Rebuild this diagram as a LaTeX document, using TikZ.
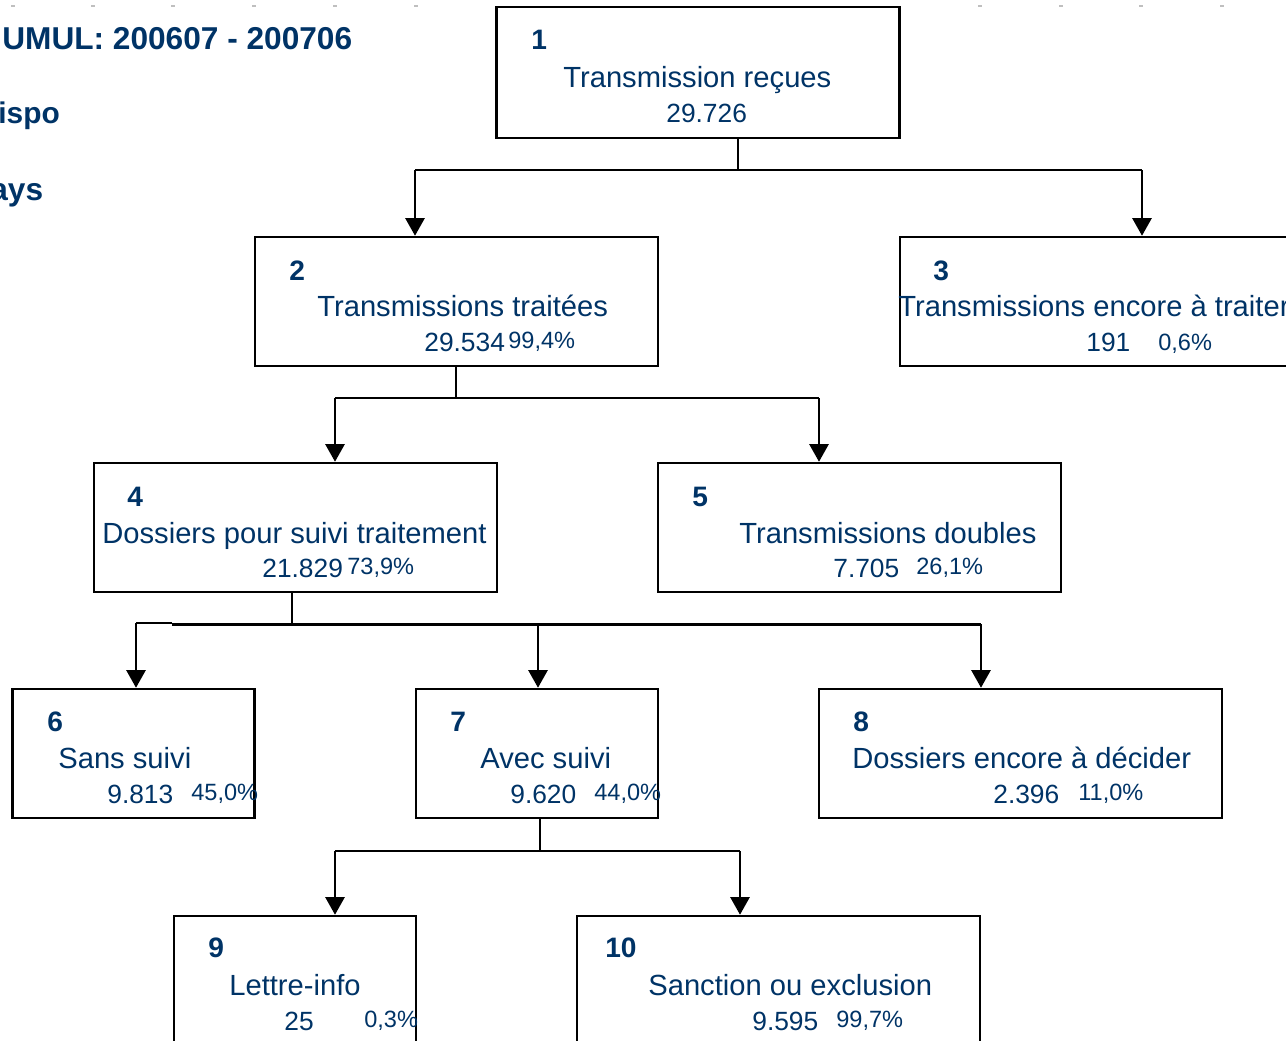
\documentclass[tikz,border=0pt]{standalone}
\usepackage{fontspec}
\setmainfont{Liberation Sans}
\usetikzlibrary{arrows.meta}

\definecolor{navy}{RGB}{0,51,102}
\tikzset{
  box/.style={draw, rectangle, line width=1.5pt, inner sep=0pt, minimum height=2.58cm},
  wide/.style={box, minimum width=8.06cm},
  narrow/.style={box, minimum width=4.84cm},
  link/.style={line width=1.4pt},
  arr/.style={line width=0.9pt, -{Triangle[length=10pt,width=11pt]}},
  txt/.style={anchor=base west, inner sep=0pt, text=navy},
  head/.style={txt, font=\fontsize{18}{20}\selectfont\bfseries},
  nr/.style={txt, font=\fontsize{16}{18}\selectfont\bfseries},
  lbl/.style={txt, font=\fontsize{16.6}{18}\selectfont},
  val/.style={txt, font=\fontsize{15}{17}\selectfont},
  pct/.style={txt, font=\fontsize{13.4}{15}\selectfont}
}

\begin{document}
\begin{tikzpicture}[x=0.02cm, y=-0.02cm]
    \clip (0,0) rectangle (1286,1041);
    % ruler marks along the top
    \foreach \i in {13,93,173,254,335,416,980,1061,1141,1222}
        \draw[gray!50, line width=0.6pt] (\i-2,6) -- (\i+2,6);

    % heading
    \node[head] (hd) at (2,50) {UMUL: 200607 - 200706};
    \node[head, font=\fontsize{17}{19}\selectfont\bfseries] (hd2) at (-2,123) {ispo};
    \node[head] (hd3) at (-10,200) {ays};

    % boxes
    \node[wide, minimum height=2.62cm] (b1) at (698,72.5) {};
    \node[wide] (b2) at (456.5,301.5) {};
    \node[wide] (b3) at (1101.5,301.5) {};
    \node[wide] (b4) at (295.5,527.5) {};
    \node[wide] (b5) at (859.5,527.5) {};
    \node[narrow] (b6) at (133.5,753.5) {};
    \node[narrow] (b7) at (537,753.5) {};
    \node[wide] (b8) at (1020.5,753.5) {};
    \node[narrow] (b9) at (295,980.5) {};
    \node[wide] (b10) at (778.5,980.5) {};

    % box texts
    \node[nr] (n1) at (531,50) {1};
    \node[lbl] (t1) at (563,87) {Transmission reçues};
    \node[val] (v1) at (666,122) {29.726};

    \node[nr] (n2) at (289,280) {2};
    \node[lbl] (t2) at (317,316) {Transmissions traitées};
    \node[val] (v2) at (424,351) {29.534};
    \node[pct] (p2) at (508,348) {99,4\%};

    \node[nr] (n3) at (933,280) {3};
    \node[lbl] (t3) at (898,316) {Transmissions encore à traiter};
    \node[val] (v3) at (1086,351) {191};
    \node[pct] (p3) at (1158,350) {0,6\%};

    \node[nr] (n4) at (127,506) {4};
    \node[lbl] (t4) at (102,543) {Dossiers pour suivi traitement};
    \node[val] (v4) at (262,577) {21.829};
    \node[pct] (p4) at (347,574) {73,9\%};

    \node[nr] (n5) at (692,506) {5};
    \node[lbl] (t5) at (739,543) {Transmissions doubles};
    \node[val] (v5) at (833,577) {7.705};
    \node[pct] (p5) at (916,574) {26,1\%};

    \node[nr] (n6) at (47,731) {6};
    \node[lbl] (t6) at (58,768) {Sans suivi};
    \node[val] (v6) at (107,803) {9.813};
    \node[pct] (p6) at (191,800) {45,0\%};

    \node[nr] (n7) at (450,731) {7};
    \node[lbl] (t7) at (480,768) {Avec suivi};
    \node[val] (v7) at (510,803) {9.620};
    \node[pct] (p7) at (594,800) {44,0\%};

    \node[nr] (n8) at (853,731) {8};
    \node[lbl] (t8) at (852,768) {Dossiers encore à décider};
    \node[val] (v8) at (993,803) {2.396};
    \node[pct] (p8) at (1078,800) {11,0\%};

    \node[nr] (n9) at (208,957) {9};
    \node[lbl] (t9) at (229,995) {Lettre-info};
    \node[val] (v9) at (284,1030) {25};
    \node[pct] (p9) at (364,1027) {0,3\%};

    \node[nr] (n10) at (605,957) {10};
    \node[lbl] (t10) at (648,995) {Sanction ou exclusion};
    \node[val] (v10) at (752,1030) {9.595};
    \node[pct] (p10) at (836,1027) {99,7\%};

    % connectors
    \coordinate (j1) at (738,170);
    \draw[link] (j1 |- b1.south) -- (j1);
    \draw[link] (415,170) -- (1142,170);
    \draw[arr] (415,170) -- (415,0 |- b2.north);
    \draw[arr] (1142,170) -- (1142,0 |- b3.north);

    \coordinate (j2) at (456,398);
    \draw[link] (j2 |- b2.south) -- (j2);
    \draw[link] (335,398) -- (819,398);
    \draw[arr] (335,398) -- (335,0 |- b4.north);
    \draw[arr] (819,398) -- (819,0 |- b5.north);

    \coordinate (j4) at (292,624);
    \draw[link] (j4 |- b4.south) -- (j4);
    \draw[link] (172,624.5) -- (981,624.5);
    \draw[line width=0.9pt] (136,623) -- (172,623);
    \draw[arr] (136,623) -- (136,0 |- b6.north);
    \draw[arr] (538,624) -- (538,0 |- b7.north);
    \draw[arr] (981,624) -- (981,0 |- b8.north);

    \coordinate (j7) at (540,851);
    \draw[link] (j7 |- b7.south) -- (j7);
    \draw[link] (335,851) -- (740,851);
    \draw[arr] (335,851) -- (335,0 |- b9.north);
    \draw[arr] (740,851) -- (740,0 |- b10.north);
\end{tikzpicture}
\end{document}
